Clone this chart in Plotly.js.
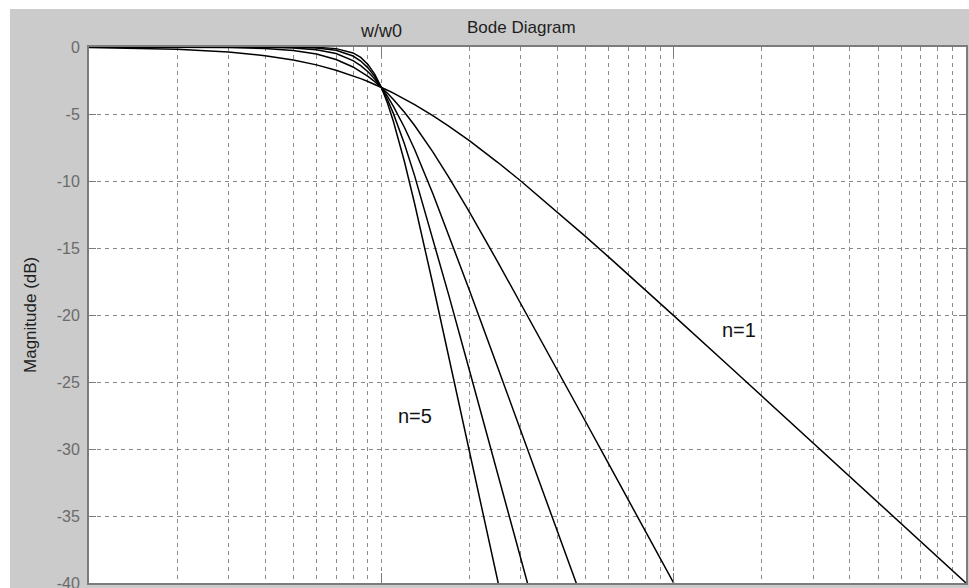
<!DOCTYPE html>
<html>
<head>
<meta charset="utf-8">
<script src="https://cdn.plot.ly/plotly-3.0.1.min.js"></script>
<style>html,body{margin:0;padding:0;background:#fff;}#chart{width:969px;height:588px;}</style>
</head>
<body>
<div id="chart"></div>
<script>
// normalized frequency w/w0
var freq = [0.1, 0.2, 0.3, 0.4, 0.5, 0.6, 0.7, 0.8, 0.85, 0.9, 0.95, 1.0, 1.05, 1.1, 1.2, 1.3, 1.5, 1.7, 2, 2.5, 3, 4, 5, 6, 7, 8, 10, 15, 20, 30, 40, 50, 70, 100];
// magnitude (dB), order n = 1..5
var magN1 = [-0.043, -0.170, -0.374, -0.645, -0.969, -1.335, -1.732, -2.148, -2.361, -2.577, -2.793, -3.010, -3.227, -3.444, -3.874, -4.298, -5.119, -5.899, -6.990, -8.603, -10.0, -12.304, -14.150, -15.682, -16.990, -18.129, -20.043, -23.541, -26.031, -29.547, -32.044, -33.98, -36.903, -40.0];
var magN2 = [-0.0004, -0.0069, -0.035, -0.110, -0.263, -0.529, -0.935, -1.491, -1.824, -2.191, -2.588, -3.010, -3.455, -3.916, -4.876, -5.861, -7.826, -9.709, -12.304, -16.027, -19.138, -24.099, -27.966, -31.130, -33.806, -36.125, -40.0, -47.04];
var magN3 = [0, -0.0003, -0.003, -0.018, -0.067, -0.198, -0.483, -1.011, -1.389, -1.851, -2.393, -3.010, -3.692, -4.427, -6.005, -7.654, -10.931, -14.003, -18.129, -23.894, -28.633, -36.125, -41.938];
var magN4 = [0, 0, 0, -0.003, -0.017, -0.072, -0.243, -0.673, -1.047, -1.555, -2.210, -3.010, -3.940, -4.974, -7.243, -9.618, -14.254, -18.498, -24.099, -31.838, -38.170, -48.165];
var magN5 = [0, 0, 0, -0.0005, -0.004, -0.026, -0.121, -0.443, -0.781, -1.297, -2.038, -3.010, -4.198, -5.556, -8.568, -11.699, -17.684, -23.066, -30.107, -39.794, -47.712];

var xMajorTicks = [0.1, 1, 10, 100];
var xMinorTicks = [0.2, 0.3, 0.4, 0.5, 0.6, 0.7, 0.8, 0.9, 2, 3, 4, 5, 6, 7, 8, 9, 20, 30, 40, 50, 60, 70, 80, 90];
var yTickVals = [0, -5, -10, -15, -20, -25, -30, -35, -40];
var yTickText = ["0", "-5", "-10", "-15", "-20", "-25", "-30", "-35", "-40"];

var chartTitle = "Bode Diagram";
var xLabel = "w/w0";
var yLabel = "Magnitude (dB)";
var curveLabels = [{text: "n=1", x: 16.7, y: -21.1}, {text: "n=5", x: 1.30, y: -27.5}];

var series = [magN1, magN2, magN3, magN4, magN5];
var traces = series.map(function (m, i) {
  return {
    type: "scatter", mode: "lines",
    x: freq.slice(0, m.length), y: m,
    line: {color: "#000000", width: 1.5},
    name: "n=" + (i + 1), hoverinfo: "skip", showlegend: false
  };
});

var gridDash = "4px,4px";
var gray = "#7c7c7c";

var layout = {
  width: 969, height: 588,
  margin: {l: 89, r: 3, t: 47, b: 5, pad: 0},
  paper_bgcolor: "#cbcbcb",
  plot_bgcolor: "#ffffff",
  showlegend: false,
  font: {family: "Liberation Sans, Arial, sans-serif", size: 16, color: "#6a6a6a"},
  xaxis: {
    type: "log", range: [-1, 2], autorange: false,
    tickmode: "array", tickvals: xMajorTicks, showticklabels: false,
    ticks: "inside", ticklen: 10, tickwidth: 1, tickcolor: gray,
    showgrid: true, gridcolor: "#8a8a8a", gridwidth: 1, griddash: gridDash,
    minor: {tickmode: "array", tickvals: xMinorTicks, ticks: "", showgrid: true,
            gridcolor: "#8a8a8a", gridwidth: 1, griddash: gridDash},
    showline: true, linecolor: gray, linewidth: 2, mirror: "ticks",
    zeroline: false, fixedrange: true
  },
  yaxis: {
    range: [-40, 0], autorange: false,
    tickmode: "array", tickvals: yTickVals, ticktext: yTickText,
    ticks: "inside", ticklen: 7, tickwidth: 1, tickcolor: gray,
    ticklabelstandoff: 4, ticklabeloverflow: "allow",
    tickfont: {family: "Liberation Sans, Arial, sans-serif", size: 16, color: "#6a6a6a"},
    showgrid: true, gridcolor: "#8a8a8a", gridwidth: 1, griddash: gridDash,
    showline: true, linecolor: gray, linewidth: 2, mirror: "ticks",
    zeroline: false, fixedrange: true
  },
  shapes: [
    {type: "rect", xref: "paper", yref: "paper", x0: -0.2, x1: 1.2, y0: 1.0709, y1: 1.2,
     fillcolor: "#ffffff", line: {width: 0}, layer: "above"},
    {type: "rect", xref: "paper", yref: "paper", x0: -0.2, x1: -0.0901, y0: -0.2, y1: 1.2,
     fillcolor: "#ffffff", line: {width: 0}, layer: "above"}
  ],
  annotations: [
    {text: chartTitle, xref: "paper", yref: "paper", x: 0.4937, y: 1.0373,
     xanchor: "center", yanchor: "middle", showarrow: false,
     font: {family: "Liberation Sans, Arial, sans-serif", size: 17, color: "#1e1e1e"}},
    {text: xLabel, xref: "paper", yref: "paper", x: 0.333, y: 1.0299,
     xanchor: "center", yanchor: "middle", showarrow: false,
     font: {family: "Liberation Sans, Arial, sans-serif", size: 18, color: "#1e1e1e"}},
    {text: yLabel, xref: "paper", yref: "paper", x: -0.0673, y: 0.5, textangle: -90,
     xanchor: "center", yanchor: "middle", showarrow: false,
     font: {family: "Liberation Sans, Arial, sans-serif", size: 17, color: "#1e1e1e"}}
  ].concat(curveLabels.map(function (c) {
    return {text: c.text, xref: "x", yref: "y", x: Math.log10(c.x), y: c.y,
            xanchor: "center", yanchor: "middle", showarrow: false,
            font: {family: "Liberation Sans, Arial, sans-serif", size: 20, color: "#111111"}};
  }))
};

Plotly.newPlot("chart", traces, layout, {displayModeBar: false, staticPlot: true});
</script>
</body>
</html>
